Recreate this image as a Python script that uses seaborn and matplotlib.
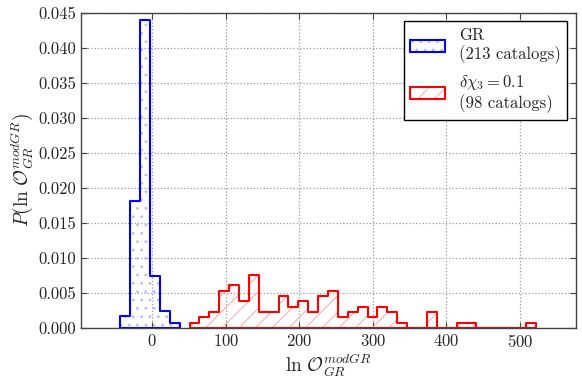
import matplotlib
matplotlib.use('Agg')
import matplotlib.pyplot as plt
import seaborn as sns
import numpy as np
from matplotlib.patches import Patch

# histogram bins (shared by both samples)
bin_lo = -43.3
bin_w = 13.45
n_bins = 42
edges = bin_lo + bin_w*np.arange(n_bins + 1)

# catalog counts per bin
gr_first = 0
gr_counts = [5, 52, 126, 21, 7, 2]
chi_first = 7
chi_counts = [1, 2, 3, 7, 8, 5, 10, 3, 3, 6, 4, 5, 3, 6, 7, 2, 3, 4, 2, 4, 3, 1,
              0, 0, 3, 0, 0, 1, 1, 0, 0, 0, 0, 0, 1]

gr_label = 'GR\n(213 catalogs)'
chi_label = '$\\delta\\chi_3 = 0.1$\n(98 catalogs)'

sns.set_style('ticks')
plt.rcParams['font.family'] = 'serif'
plt.rcParams['font.serif'] = ['cmr10', 'DejaVu Serif']
plt.rcParams['mathtext.fontset'] = 'cm'
plt.rcParams['axes.unicode_minus'] = False
plt.rcParams['axes.formatter.use_mathtext'] = True
plt.rcParams['hatch.linewidth'] = 0.7

fig = plt.figure(figsize=(5.82, 3.79), dpi=100)
ax = fig.add_axes([0.139, 0.135, 0.85, 0.832])

gr_hatch_col = (0.72, 0.72, 1.0)
chi_hatch_col = (1.0, 0.65, 0.65)

def draw(first, counts, col, hcol, hatch):
    b = edges[first:first + len(counts) + 1]
    centers = list((b[:-1] + b[1:]) / 2)
    b = list(b)
    sns.histplot(x=centers, weights=counts, bins=b, stat='density', element='step',
                 fill=True, color=col, facecolor='none', edgecolor=hcol, hatch=hatch,
                 linewidth=0, ax=ax)
    sns.histplot(x=centers, weights=counts, bins=b, stat='density', element='step',
                 fill=True, color=col, facecolor='none', edgecolor=col, linewidth=1.5, ax=ax)

draw(gr_first, gr_counts, 'blue', gr_hatch_col, '..')
draw(chi_first, chi_counts, 'red', chi_hatch_col, '//')

ax.set_xlim(-97, 576)
ax.set_ylim(0, 0.045)
ax.set_xticks([0, 100, 200, 300, 400, 500])
ax.set_yticks(np.arange(0, 0.0451, 0.005))
ax.yaxis.set_major_formatter(matplotlib.ticker.FormatStrFormatter('%.3f'))
ax.grid(True, color='#999999', ls=':', lw=0.9)
ax.tick_params(direction='in', top=True, right=True, labelsize=12, length=4, color='#444444')
for s in ax.spines.values():
    s.set_color('#444444')
    s.set_linewidth(1.0)

ax.set_xlabel(r'$\ln\,\mathcal{O}_{GR}^{modGR}$', fontsize=14, labelpad=1)
ax.set_ylabel(r'$P(\ln\,\mathcal{O}_{GR}^{modGR})$', fontsize=14, labelpad=2)

h_gr = (Patch(facecolor='white', edgecolor=gr_hatch_col, hatch='..', lw=0),
        Patch(facecolor='none', edgecolor='blue', lw=1.5))
h_chi = (Patch(facecolor='white', edgecolor=chi_hatch_col, hatch='//', lw=0),
         Patch(facecolor='none', edgecolor='red', lw=1.5))
leg = ax.legend([h_gr, h_chi], [gr_label, chi_label], loc='upper right', fontsize=12,
                fancybox=False, framealpha=1, edgecolor='black', handlelength=2.1,
                borderaxespad=0.5, labelspacing=0.5)
leg.get_frame().set_linewidth(1.0)

fig.savefig('out.png', dpi=100)
